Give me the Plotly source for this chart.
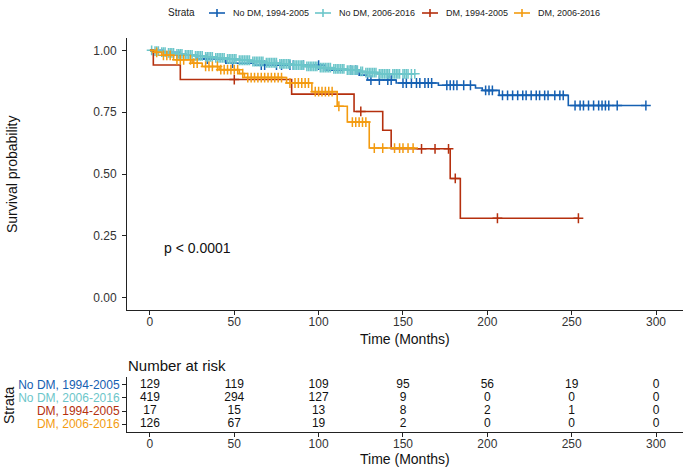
import numpy as np
import plotly.graph_objects as go

# ---------------- data ----------------
strata = ["No DM, 1994-2005", "No DM, 2006-2016", "DM, 1994-2005", "DM, 2006-2016"]
colors = ["#1560B2", "#6CC6CA", "#B5300E", "#F39B10"]

# No DM, 1994-2005
t_nodm_old = [8, 17, 28, 45, 62, 104, 124, 129, 146, 171, 193, 197, 207, 248]
s_nodm_old = [0.992, 0.98, 0.965, 0.948, 0.94, 0.92, 0.90, 0.88, 0.868, 0.859, 0.848, 0.838, 0.818, 0.777]
end_nodm_old = 294
c_nodm_old = [18, 34, 49, 66, 68, 75, 78, 83, 85, 91, 100, 119, 122, 131, 136, 141, 143, 150, 152, 155,
              158, 160, 163, 165, 167, 176, 178, 180, 182, 186, 190, 199, 201, 203, 209, 212, 215, 218,
              221, 223, 226, 229, 231, 234, 236, 240, 243, 245, 252, 255, 257, 260, 263, 266, 268, 270,
              272, 277, 294]

# No DM, 2006-2016
t_nodm_new = [2, 6, 10, 15, 20, 26, 32, 38, 45, 52, 60, 68, 76, 84, 92, 100, 108, 116, 124, 127, 135]
s_nodm_new = [0.997, 0.993, 0.99, 0.986, 0.982, 0.978, 0.974, 0.97, 0.965, 0.96, 0.955, 0.95, 0.945,
              0.94, 0.935, 0.93, 0.925, 0.92, 0.915, 0.91, 0.905]
end_nodm_new = 157
c_nodm_new = [1, 3, 4, 5, 7, 8, 9, 11, 12, 13, 14, 16, 17, 18, 19, 21, 22, 23, 24, 25, 27, 28, 29, 30, 31,
              33, 34, 35, 36, 37, 39, 40, 41, 42, 43, 44, 46, 47, 48, 49, 50, 51, 53, 54, 55, 56, 57, 58,
              59, 61, 62, 63, 64, 65, 66, 67, 69, 70, 71, 72, 73, 74, 75, 77, 78, 79, 80, 81, 82, 83, 85,
              86, 87, 88, 89, 90, 91, 93, 94, 95, 96, 97, 98, 99, 101, 102, 103, 104, 105, 106, 107, 109,
              110, 111, 112, 113, 114, 115, 117, 118, 119, 120, 121, 122, 123, 125, 126, 128, 129, 130,
              131, 132, 133, 134, 136, 137, 138, 139, 140, 141, 142, 144, 145, 146, 147, 148, 150, 151,
              152, 153, 155, 157]

# DM, 1994-2005
t_dm_old = [2, 18, 84, 121, 138, 143, 178, 184]
s_dm_old = [0.941, 0.882, 0.823, 0.753, 0.677, 0.602, 0.482, 0.321]
end_dm_old = 254
c_dm_old = [50, 125, 161, 169, 177, 181, 206, 254]

# DM, 2006-2016
t_dm_new = [3, 7, 14, 25, 31, 41, 53, 56, 81, 96, 111, 117, 130]
s_dm_new = [0.992, 0.98, 0.962, 0.948, 0.935, 0.922, 0.906, 0.89, 0.868, 0.833, 0.774, 0.71, 0.605]
end_dm_new = 157
c_dm_new = [4, 8, 10, 12, 16, 18, 20, 24, 26, 28, 33, 35, 37, 40, 42, 44, 46, 48, 50, 52, 55, 58, 60, 62,
            64, 66, 68, 70, 72, 74, 76, 78, 83, 86, 88, 90, 92, 94, 98, 100, 102, 104, 106, 108, 112,
            120, 122, 124, 126, 128, 133, 138, 145, 148, 150, 153, 156]

# Number at risk
risk_times = [0, 50, 100, 150, 200, 250, 300]
risk_nodm_old = [129, 119, 109, 95, 56, 19, 0]
risk_nodm_new = [419, 294, 127, 9, 0, 0, 0]
risk_dm_old = [17, 15, 13, 8, 2, 1, 0]
risk_dm_new = [126, 67, 19, 2, 0, 0, 0]

x_ticks = [0, 50, 100, 150, 200, 250, 300]
y_ticks = [0.0, 0.25, 0.5, 0.75, 1.0]
y_tick_labels = ["0.00", "0.25", "0.50", "0.75", "1.00"]
p_text = "p < 0.0001"

curves = [
    (t_nodm_old, s_nodm_old, end_nodm_old, c_nodm_old),
    (t_nodm_new, s_nodm_new, end_nodm_new, c_nodm_new),
    (t_dm_old, s_dm_old, end_dm_old, c_dm_old),
    (t_dm_new, s_dm_new, end_dm_new, c_dm_new),
]
risks = [risk_nodm_old, risk_nodm_new, risk_dm_old, risk_dm_new]

# ---------------- figure ----------------
W, H = 685, 470
FONT = "Liberation Sans, Arial, sans-serif"
fig = go.Figure()


def px_x(v):
    return v / W


def px_y(v):
    return (H - v) / H


def step_value(times, surv, t):
    idx = np.searchsorted(np.array(times), t, side="right")
    return 1.0 if idx == 0 else surv[idx - 1]


for name, col, (tt, ss, te, cc) in zip(strata, colors, curves):
    xs = [0] + list(tt) + [te]
    ys = [1.0] + list(ss) + [ss[-1]]
    fig.add_trace(go.Scatter(x=xs, y=ys, mode="lines", line=dict(color=col, width=1.6, shape="hv"),
                             name=name, showlegend=False, hoverinfo="skip", xaxis="x", yaxis="y"))
    cy = [step_value(tt, ss, c) for c in cc]
    fig.add_trace(go.Scatter(x=cc, y=cy, mode="markers",
                             marker=dict(symbol="cross-thin", size=7, line=dict(color=col, width=1.5)),
                             showlegend=False, hoverinfo="skip", xaxis="x", yaxis="y"))

# risk table
for name, r in zip(strata, risks):
    fig.add_trace(go.Scatter(x=risk_times, y=[name] * len(risk_times), mode="text",
                             text=[str(v) for v in r], textfont=dict(family=FONT, size=12, color="#111111"),
                             showlegend=False, hoverinfo="skip", xaxis="x2", yaxis="y2"))

tick_font = dict(family=FONT, size=12, color="#333333")
axis_common = dict(showline=True, linecolor="#222222", linewidth=1, ticks="outside", ticklen=4,
                   tickcolor="#222222", showgrid=False, zeroline=False, automargin=False)

xr = [-13.6, 316]
fig.update_layout(
    width=W, height=H,
    margin=dict(l=0, r=0, t=0, b=0, autoexpand=False),
    paper_bgcolor="white", plot_bgcolor="white",
    font=dict(family=FONT, color="#111111"),
    xaxis=dict(domain=[px_x(127), px_x(683)], range=xr, tickvals=x_ticks, anchor="y", tickfont=tick_font,
               ticklabelstandoff=-3, **axis_common),
    yaxis=dict(domain=[px_y(310), px_y(38)], range=[-0.05, 1.05], tickvals=y_ticks, ticktext=y_tick_labels,
               anchor="x", tickfont=tick_font, ticklabelstandoff=3, **axis_common),
    xaxis2=dict(domain=[px_x(127), px_x(683)], range=xr, tickvals=x_ticks, anchor="y2", tickfont=tick_font,
                ticklabelstandoff=-3, **axis_common),
    yaxis2=dict(domain=[px_y(432), px_y(377)], type="category", categoryorder="array",
                categoryarray=strata[::-1], range=[-0.6, 3.6], anchor="x2",
                tickvals=strata,
                ticktext=[f'<span style="color:{c}">{s}</span>' for s, c in zip(strata, colors)],
                tickfont=dict(family=FONT, size=12), **axis_common),
    showlegend=False,
)

ann = [
    dict(text=p_text, x=7, y=0.2, xref="x", yref="y", xanchor="left", yanchor="middle",
         showarrow=False, font=dict(family=FONT, size=14, color="#111111")),
    dict(text="Time (Months)", x=px_x(405), y=px_y(339), xref="paper", yref="paper", showarrow=False,
         xanchor="center", yanchor="middle", font=dict(family=FONT, size=14, color="#111111")),
    dict(text="Time (Months)", x=px_x(405), y=px_y(459), xref="paper", yref="paper", showarrow=False,
         xanchor="center", yanchor="middle", font=dict(family=FONT, size=14, color="#111111")),
    dict(text="Number at risk", x=px_x(126), y=px_y(365), xref="paper", yref="paper", xanchor="left",
         yanchor="middle", showarrow=False, font=dict(family=FONT, size=15, color="#111111")),
    dict(text="Survival probability", x=px_x(12), y=px_y(174), xref="paper", yref="paper", textangle=-90,
         xanchor="center", yanchor="middle", showarrow=False, font=dict(family=FONT, size=14, color="#111111")),
    dict(text="Strata", x=px_x(9), y=px_y(405), xref="paper", yref="paper", textangle=-90,
         xanchor="center", yanchor="middle", showarrow=False, font=dict(family=FONT, size=14, color="#111111")),
    dict(text="Strata", x=px_x(166), y=px_y(13), xref="paper", yref="paper", xanchor="left",
         yanchor="middle", showarrow=False, font=dict(family=FONT, size=10, color="#222222")),
]

# legend keys (line with a "+" censor mark) drawn at the top
legend_centers = [217, 323, 430, 522]
shapes = []
LY = 13
for name, col, cx in zip(strata, colors, legend_centers):
    shapes.append(dict(type="line", xref="paper", yref="paper", x0=px_x(cx - 8), x1=px_x(cx + 8),
                       y0=px_y(LY), y1=px_y(LY), line=dict(color=col, width=1.6)))
    shapes.append(dict(type="line", xref="paper", yref="paper", x0=px_x(cx), x1=px_x(cx),
                       y0=px_y(LY - 4), y1=px_y(LY + 4), line=dict(color=col, width=1.6)))
    ann.append(dict(text=name, x=px_x(cx + 14), y=px_y(LY), xref="paper", yref="paper", xanchor="left",
                    yanchor="middle", showarrow=False, font=dict(family=FONT, size=9, color="#222222")))

fig.update_layout(annotations=ann, shapes=shapes)

fig.write_html("out.html", config={"displayModeBar": False},
               post_script="document.body.style.margin='0px';")
